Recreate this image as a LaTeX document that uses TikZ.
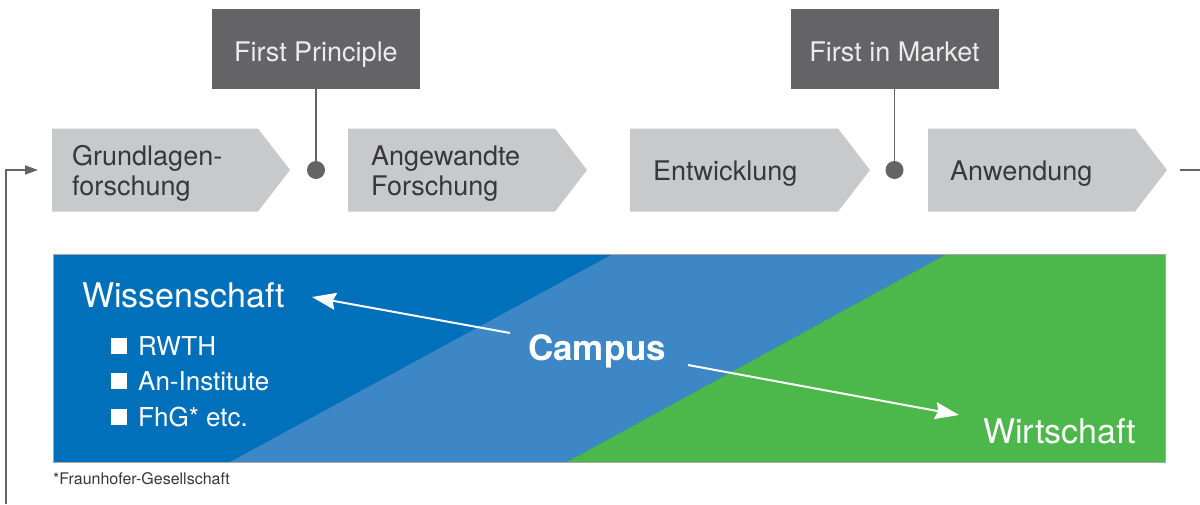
\documentclass[tikz,border=0pt]{standalone}
\usepackage{fontspec}
\setmainfont{TeX Gyre Heros}
\usetikzlibrary{arrows.meta,calc}
\definecolor{chevgray}{HTML}{C8C9CA}
\definecolor{darkbox}{HTML}{646466}
\definecolor{txtgray}{HTML}{38383A}
\definecolor{dblue}{HTML}{0070BA}
\definecolor{lblue}{HTML}{3D87C7}
\definecolor{wgreen}{HTML}{4CB74A}
\definecolor{boxtxt}{HTML}{ECECEC}
\definecolor{bandline}{HTML}{A8A8A8}
\begin{document}
\begin{tikzpicture}[x=1pt,y=-1pt,
  chev/.style={fill=chevgray},
  chevtext/.style={anchor=base west, inner sep=0pt, text=txtgray, font=\fontsize{27}{30}\selectfont, align=left},
  milestone/.style={fill=darkbox, text=boxtxt, minimum width=208pt, minimum height=80pt, inner sep=0pt, text height=24pt, text depth=0pt, font=\fontsize{27}{30}\selectfont},
  dot/.style={circle, fill=darkbox, minimum size=18pt, inner sep=0pt},
  conn/.style={draw=darkbox, line width=1.6pt},
  whitetext/.style={text=white, inner sep=0pt, anchor=base west},
  warrow/.style={draw=white, line width=2pt, -{Stealth[length=24pt,width=17pt,inset=3pt]}},
]
\useasboundingbox (0,0) rectangle (1200,504);

% chevrons
\fill[chev] (52,128.5) -- (258,128.5) -- (290,170) -- (258,211.5) -- (52,211.5) -- cycle;
\fill[chev] (348,128.5) -- (555,128.5) -- (587,170) -- (555,211.5) -- (348,211.5) -- cycle;
\fill[chev] (630,128.5) -- (838,128.5) -- (870,170) -- (838,211.5) -- (630,211.5) -- cycle;
\fill[chev] (928,128.5) -- (1135,128.5) -- (1167,170) -- (1135,211.5) -- (928,211.5) -- cycle;

\node[chevtext] (t1) at (72,195) {Grundlagen-\\forschung};
\node[chevtext] (t2) at (371,195) {Angewandte\\Forschung};
\node[chevtext] (t3) at (653,180) {Entwicklung};
\node[chevtext] (t4) at (950,180) {Anwendung};

% milestones
\node[milestone] (fp) at (316,49) {First Principle};
\node[milestone] (fm) at (894.5,49) {First in Market};
\node[dot] (d1) at (316,170) {};
\node[dot] (d2) at (894.5,170) {};
\draw[conn] (fp.south) -- (d1.center);
\draw[conn] (fm.south) -- (d2.center);

% loop connectors
\coordinate (lb) at (6,504);
\coordinate (le) at (38,170);
\coordinate (rs) at (1180,170);
\coordinate (re) at (1200,170);
\draw[conn, -{Triangle[length=13pt,width=9pt]}] (lb) |- (le);
\draw[conn] (rs) -- (re);

% band
\fill[dblue] (53,254) rectangle (1165,462);
\fill[lblue] (613,254) -- (947,254) -- (567,462) -- (230,462) -- cycle;
\fill[wgreen] (947,254) -- (1165,254) -- (1165,462) -- (567,462) -- cycle;
\draw[bandline, line width=0.8pt] (53,254) rectangle (1165,462);

\node[whitetext, font=\fontsize{34}{40}\selectfont] (wiss) at (82,307) {Wissenschaft};
\node[whitetext, font=\bfseries\fontsize{35}{40}\selectfont] (campus) at (528,360) {Campus};
\node[whitetext, font=\fontsize{34}{40}\selectfont] (wirt) at (983,443) {Wirtschaft};

\node[whitetext, font=\fontsize{26}{30}\selectfont] (rwth) at (111,355) {\rule[1pt]{16pt}{16pt}\hspace{11pt}RWTH};
\node[whitetext, font=\fontsize{26}{30}\selectfont] (ani) at (111,390) {\rule[1pt]{16pt}{16pt}\hspace{11pt}An-Institute};
\node[whitetext, font=\fontsize{26}{30}\selectfont] (fhg) at (111,426) {\rule[1pt]{16pt}{16pt}\hspace{11pt}FhG* etc.};

\coordinate (a1s) at (510,333);
\coordinate (a1e) at (312,297);
\coordinate (a2s) at (688,365);
\coordinate (a2e) at (959,415);
\draw[warrow] (a1s) -- (a1e);
\draw[warrow] (a2s) -- (a2e);

\node[anchor=base west, inner sep=0pt, text=txtgray, font=\fontsize{16}{19}\selectfont] (fn) at (53,484) {*Fraunhofer-Gesellschaft};
\end{tikzpicture}
\end{document}
